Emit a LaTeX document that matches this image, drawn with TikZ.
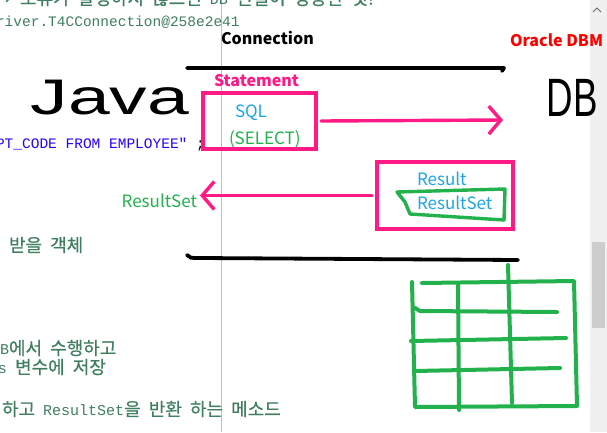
\documentclass[tikz,border=0pt]{standalone}
\usepackage{fontspec}
\usepackage{xcolor}
\usepackage{tikz}
\usetikzlibrary{arrows.meta}
\setmonofont{Liberation Mono}
\newfontfamily\krfont{Noto Sans CJK KR}
\newfontfamily\krcode[FakeBold=0.5,WordSpace=2]{Noto Sans CJK KR}
\newfontfamily\handfont{Liberation Sans}
\definecolor{hotpink}{HTML}{FF1A86}
\definecolor{penblue}{HTML}{1BA6E4}
\definecolor{pengreen}{HTML}{22B14C}
\definecolor{comment}{HTML}{3F7F5F}
\definecolor{strblue}{HTML}{2A00FF}
\definecolor{track}{HTML}{F0F0F0}
\definecolor{thumb}{HTML}{CDCDCD}
\newcommand\mono[1]{{\ttfamily\fontsize{15}{15}\selectfont #1}}

\begin{document}
\begin{tikzpicture}[
  x=1pt,y=-1pt,
  every node/.style={inner sep=0pt,outer sep=0pt},
  code/.style={anchor=west,font=\ttfamily\fontsize{14.5}{14.5}\selectfont,text=comment},
  kr/.style={anchor=west,font=\krcode\fontsize{18}{18}\selectfont,text=comment},
  lab/.style={anchor=west,font=\krfont\fontsize{17}{17}\selectfont},
  bold/.style={anchor=west,font=\krfont\bfseries\fontsize{16}{16}\selectfont},
  hand/.style={font=\handfont\fontsize{50}{50}\selectfont,transform shape},
  pinkbox/.style={draw=hotpink,line width=3.4pt},
  blackpen/.style={draw=black,line width=3.8pt,line cap=round,line join=round},
  greenpen/.style={draw=pengreen,line width=4pt,line cap=round,line join=round},
  arrow/.style={draw=hotpink,line width=3.4pt,line cap=round,-{Straight Barb[length=12pt,width=28pt]}}
]
\useasboundingbox (0,0) rectangle (607,432);
\clip (0,0) rectangle (607,432);
\fill[white] (0,0) rectangle (607,432);

% editor background
\fill[track] (590,0) rectangle (607,432);
\fill[thumb] (592,242) rectangle (605,328);
\draw[gray!80!black,line width=1pt] (593,12) -- (597,8) -- (601,12);
\draw[black!25,line width=1pt] (221.5,0) -- (221.5,432);

% code lines
\node[kr] (cmt1) at (-6,-2) {→ 오류가 발생하지 않으면 \mono{DB} 연결이 성공한 것!};
\node[code] (conn) at (-4,22) {river.T4CConnection@258e2e41};
\node[code,text=strblue] (query) at (-4,144) {PT\_CODE FROM EMPLOYEE"};
\node[code,text=black] (semi) at (196,146) {;};
\node[kr] (cmt2) at (9,245) {받을 객체};
\node[kr] (cmt3) at (-9,348) {\mono{DB}에서 수행하고};
\node[kr] (cmt4) at (-11,367) {\mono{rs} 변수에 저장};
\node[kr] (cmt5) at (2,409) {하고 \mono{ResultSet}을 반환 하는 메소드};

% labels
\node[bold,text=black] (connlbl) at (221,38) {Connection};
\node[bold,text=red] (oracle) at (510,40) {Oracle DBM};
\node[bold,text=hotpink] (stmt) at (214,81) {Statement};
\node[hand,xscale=1.5] (java) at (110,98) {Java};
\node[hand,xscale=0.68,font=\handfont\fontsize{54}{54}\selectfont] (db) at (572,98) {DB};

% connection lines
\draw[blackpen] (187,68) -- (504,68) -- (502,71);
\draw[blackpen] (187,255) .. controls (190,258) .. (200,258) -- (518,260);

% statement box
\node[pinkbox,minimum width=113,minimum height=56] (sqlbox) at (259.5,121) {};
\node[lab,text=penblue] (sql) at (235,113) {SQL};
\node[lab,text=pengreen] (select) at (229,139) {(SELECT)};
\coordinate (dbend) at (503,120);
\draw[arrow] ([xshift=5pt]sqlbox.east) -- (dbend);

% result box
\node[pinkbox,minimum width=136,minimum height=67] (resbox) at (445,195.5) {};
\node[lab,text=penblue] (result) at (417,179) {Result};
\node[lab,text=penblue] (rsinner) at (417,203) {ResultSet};
\draw[greenpen,line width=3.4pt] (397,192) -- (505,189) -- (504,220) -- (410,214) -- (405,202) -- cycle;
\node[lab,text=pengreen,anchor=east] (rslabel) at (197,201) {ResultSet};
\draw[arrow] ([xshift=-5pt]resbox.west) -- ([xshift=3pt]rslabel.east |- resbox.west);

% result table
\draw[greenpen] (412,282) -- (415,407) -- (577,406) -- (574,281) -- (422,283);
\draw[greenpen] (458,283) -- (459,410);
\draw[greenpen] (508,265) -- (512,403);
\draw[greenpen] (415,308) -- (420,311) -- (557,312);
\draw[greenpen] (411,341) -- (566,338);
\draw[greenpen] (415,371) -- (560,368);
\end{tikzpicture}
\end{document}
